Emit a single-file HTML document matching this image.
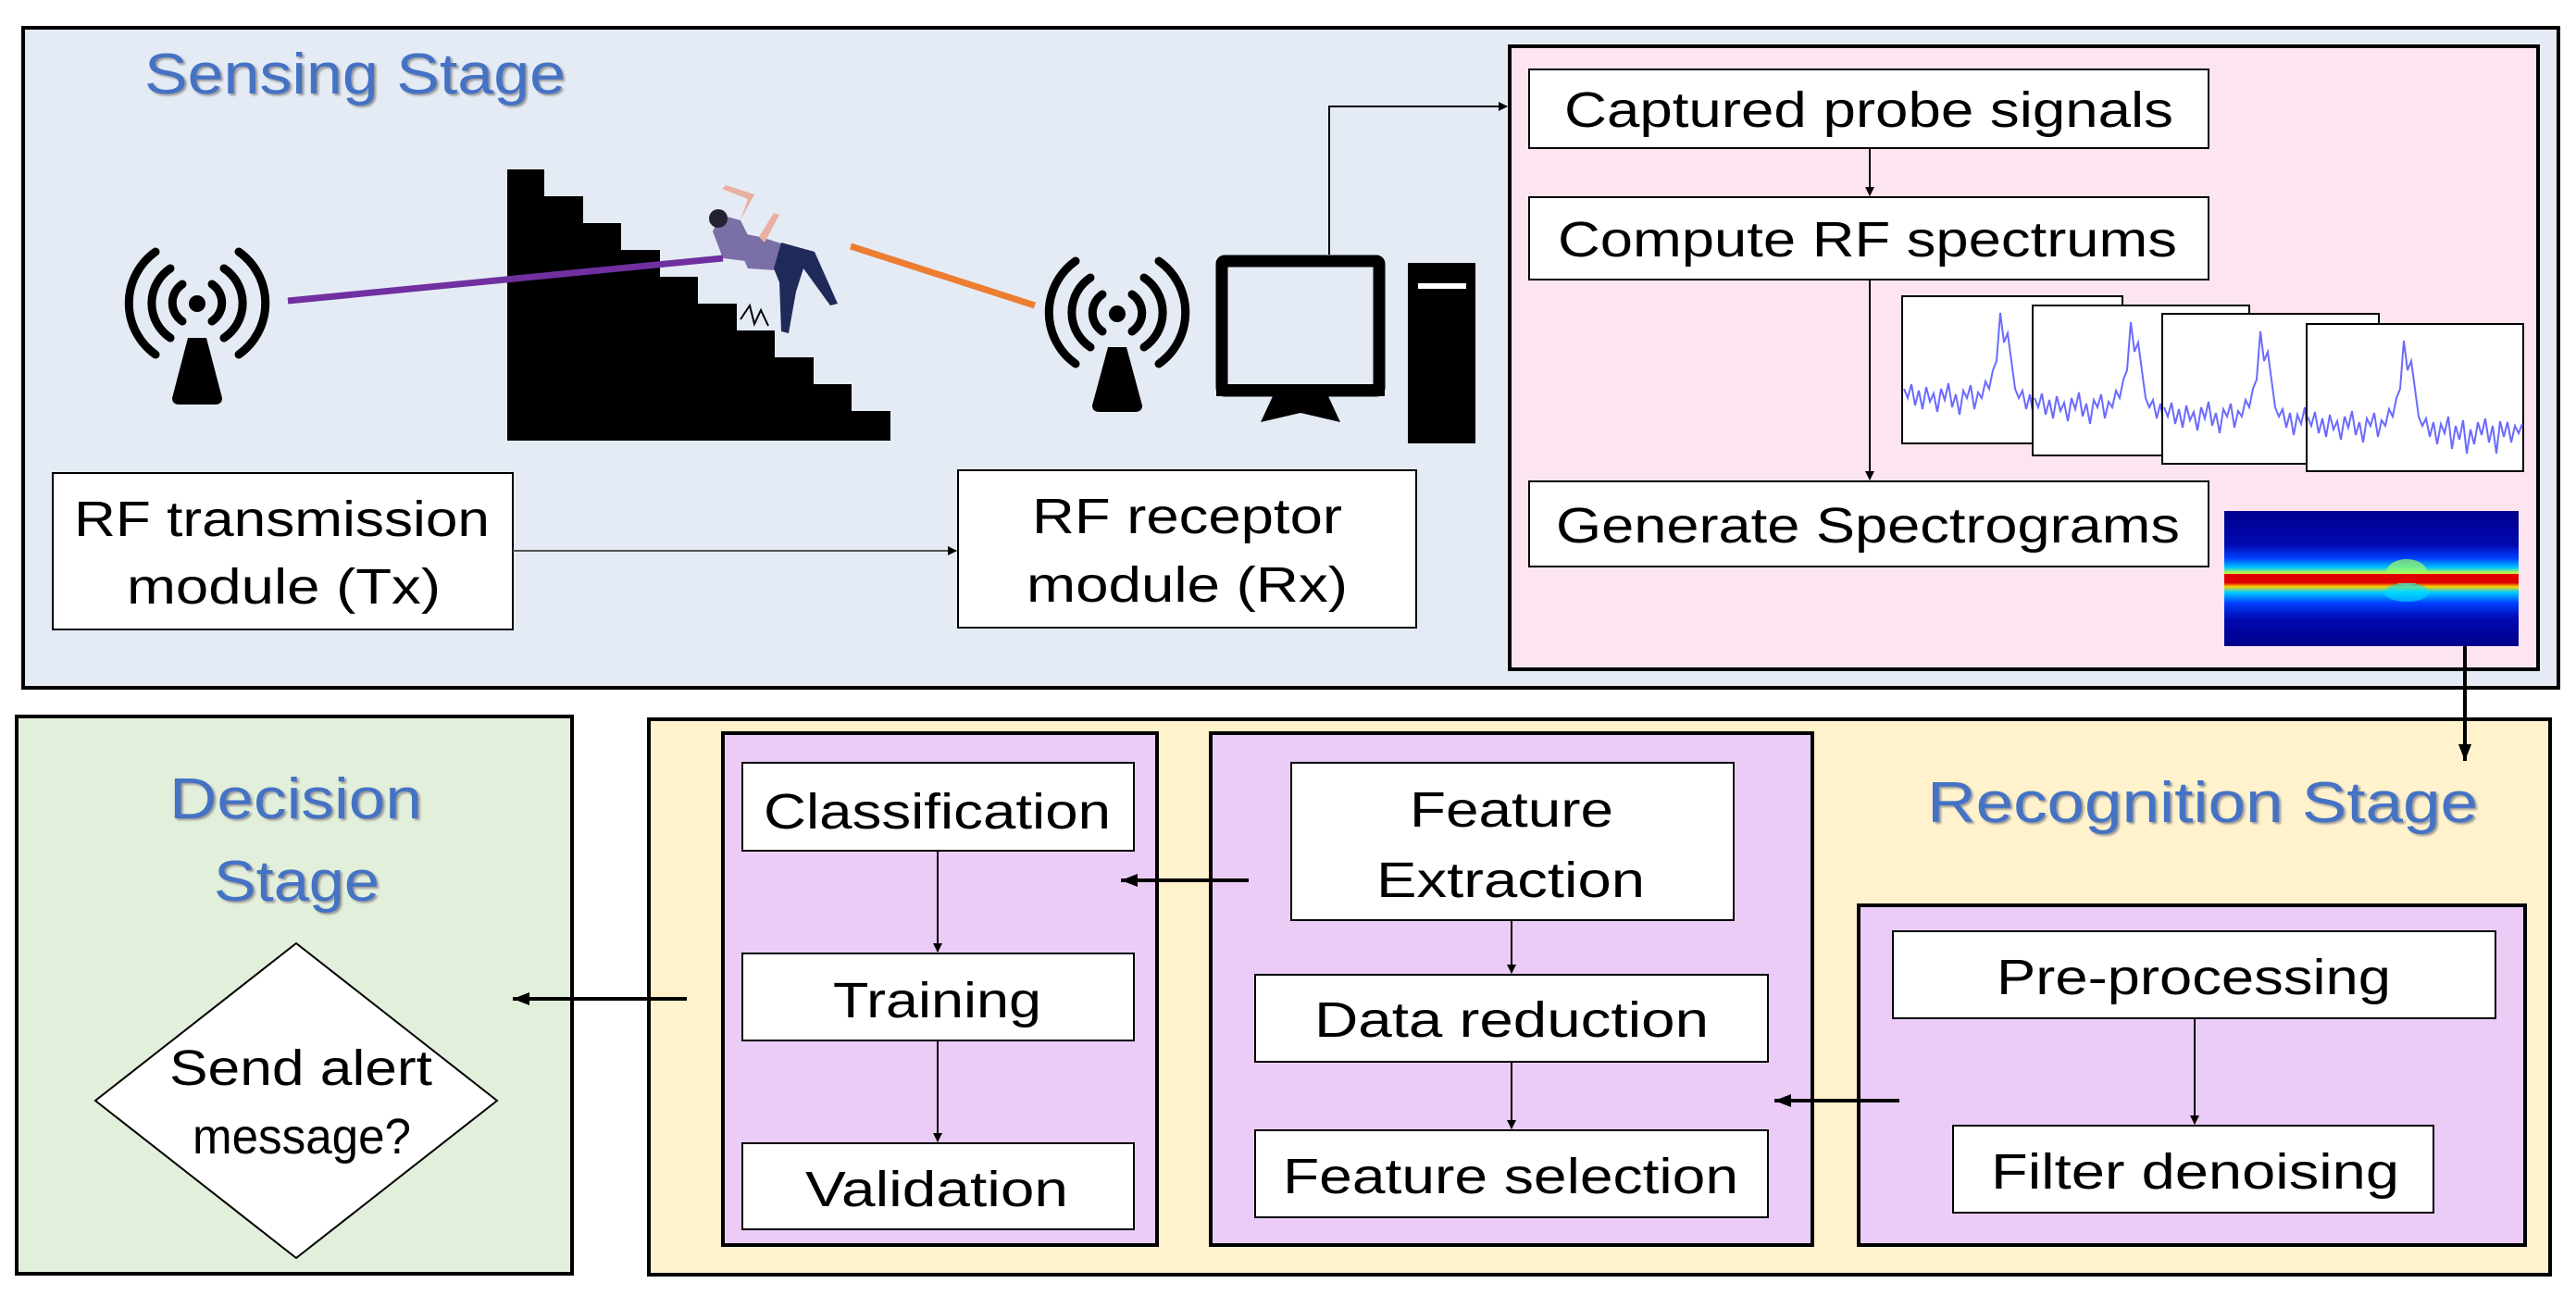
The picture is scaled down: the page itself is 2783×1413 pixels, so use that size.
<!DOCTYPE html>
<html><head><meta charset="utf-8"><style>
html,body{margin:0;padding:0;background:#fff;}
svg{display:block;}
text{font-family:"Liberation Sans",sans-serif;fill:#000;}
.lb{font-size:54px;}
.st{font-size:62px;fill:#4472C4;}
</style></head><body>
<svg width="2783" height="1413" viewBox="0 0 2783 1413" xmlns="http://www.w3.org/2000/svg">
<defs>
<marker id="ah" markerWidth="10" markerHeight="10" refX="9" refY="5" orient="auto" markerUnits="userSpaceOnUse"><path d="M0,0 L10,5 L0,10 z" fill="#000"/></marker>
<marker id="ah2" markerWidth="20" markerHeight="20" refX="18" refY="10" orient="auto" markerUnits="userSpaceOnUse"><path d="M0,3 L18,10 L0,17 z" fill="#000"/></marker>
<linearGradient id="sg" x1="0" y1="0" x2="0" y2="1">
<stop offset="0" stop-color="#00008c"/><stop offset="0.25" stop-color="#0008b0"/>
<stop offset="0.35" stop-color="#0040ff"/><stop offset="0.42" stop-color="#00c8ff"/>
<stop offset="0.46" stop-color="#c8ff40"/><stop offset="0.48" stop-color="#ff4000"/>
<stop offset="0.53" stop-color="#d00000"/><stop offset="0.56" stop-color="#ffd000"/>
<stop offset="0.6" stop-color="#00d0ff"/><stop offset="0.68" stop-color="#0040ff"/>
<stop offset="0.8" stop-color="#0008b0"/><stop offset="1" stop-color="#00008c"/>
</linearGradient>
<path id="sp" fill="none" stroke="#6a6aff" stroke-width="2" d="M0,90 L4,100 L8,85 L12,108 L16,92 L20,112 L24,88 L28,104 L32,95 L36,115 L40,90 L44,102 L48,84 L52,110 L56,96 L60,118 L64,92 L68,100 L72,86 L76,112 L80,94 L84,100 L88,82 L92,90 L96,70 L100,60 L104,8 L108,40 L112,30 L116,60 L120,90 L124,100 L128,92 L132,112 L136,96 L140,120 L144,98 L148,108 L152,90 L156,125 L160,100 L164,115 L168,94 L172,130 L176,104 L180,120 L184,96 L188,110 L192,92 L196,118 L200,100 L204,130 L208,95 L212,112 L216,96 L220,118 L224,100 L228,108 L232,98"/>
</defs>

<rect x="25" y="30" width="2739" height="713" fill="#E4EBF5" stroke="#000" stroke-width="4"/>
<text class="st" x="156" y="101" textLength="455" lengthAdjust="spacingAndGlyphs" style="text-shadow:2px 2px 2px #999">Sensing Stage</text>

<g stroke="#000" stroke-width="9" fill="none" stroke-linecap="round">
<path d="M197,307 A24,24 0 0,0 197,347"/><path d="M229,307 A24,24 0 0,1 229,347"/>
<path d="M184,290 A45,45 0 0,0 184,365"/><path d="M242,290 A45,45 0 0,1 242,365"/>
<path d="M168,272 A68,68 0 0,0 168,383"/><path d="M258,272 A68,68 0 0,1 258,383"/>
</g>
<circle cx="213" cy="328" r="9" fill="#000"/>
<path d="M203,365 L223,365 L240,430 Q240,437 232,437 L194,437 Q186,437 186,430 Z" fill="#000"/>

<g stroke="#000" stroke-width="9" fill="none" stroke-linecap="round">
<path d="M1191,318 A24,24 0 0,0 1191,358"/><path d="M1223,318 A24,24 0 0,1 1223,358"/>
<path d="M1178,300 A45,45 0 0,0 1178,375"/><path d="M1236,300 A45,45 0 0,1 1236,375"/>
<path d="M1162,282 A68,68 0 0,0 1162,393"/><path d="M1252,282 A68,68 0 0,1 1252,393"/>
</g>
<circle cx="1207" cy="339" r="9" fill="#000"/>
<path d="M1197,375 L1217,375 L1234,438 Q1234,445 1226,445 L1188,445 Q1180,445 1180,438 Z" fill="#000"/>

<path fill="#000" d="M548,183 L588,183 L588,212 L630,212 L630,241 L671,241 L671,270 L713,270 L713,299 L754,299 L754,328 L796,328 L796,357 L837,357 L837,386 L879,386 L879,415 L920,415 L920,444 L962,444 L962,476 L548,476 Z"/>

<path d="M781,279 L770,250 L778,232 L800,238 L812,262 L806,282 Z" fill="#7a6fa6"/>
<circle cx="776" cy="236" r="10" fill="#223"/>
<path d="M790,250 L822,256 L850,265 L838,292 L808,290 Z" fill="#7a6fa6"/>
<path d="M844,262 L880,272 L905,328 L897,330 L868,290 L860,315 L852,360 L844,358 L842,305 L836,290 Z" fill="#1f2a5a"/>
<path d="M800,238 L808,215 L780,204 L784,200 L815,210 Z" fill="#e8b0a0"/>
<path d="M820,256 L836,230 L842,232 L826,262 Z" fill="#e8b0a0"/>
<path d="M800,345 L810,330 L815,350 L822,335 L830,352" stroke="#000" stroke-width="2" fill="none"/>

<line x1="311" y1="325" x2="781" y2="279" stroke="#7030A0" stroke-width="7"/>
<line x1="919" y1="266" x2="1118" y2="330" stroke="#ED7D31" stroke-width="7"/>

<rect x="1320" y="282" width="170" height="140" fill="#E4EBF5" stroke="#000" stroke-width="13" rx="3"/>
<rect x="1314" y="415" width="182" height="13" fill="#000"/>
<path d="M1375,428 L1435,428 L1448,456 L1405,446 L1362,456 Z" fill="#000"/>
<rect x="1521" y="284" width="73" height="195" fill="#000"/>
<rect x="1532" y="306" width="52" height="6" fill="#fff"/>

<polyline points="1436,275 1436,115 1628,115" fill="none" stroke="#000" stroke-width="2" marker-end="url(#ah)"/>

<rect x="57" y="511" width="497" height="169" fill="#fff" stroke="#000" stroke-width="2"/>
<text class="lb" x="80" y="579" textLength="449" lengthAdjust="spacingAndGlyphs">RF transmission</text>
<text class="lb" x="137" y="652" textLength="339" lengthAdjust="spacingAndGlyphs">module (Tx)</text>
<rect x="1035" y="508" width="495" height="170" fill="#fff" stroke="#000" stroke-width="2"/>
<text class="lb" x="1115" y="576" textLength="335" lengthAdjust="spacingAndGlyphs">RF receptor</text>
<text class="lb" x="1109" y="650" textLength="347" lengthAdjust="spacingAndGlyphs">module (Rx)</text>
<line x1="554" y1="595" x2="1033" y2="595" stroke="#555" stroke-width="2" marker-end="url(#ah)"/>

<rect x="1631" y="50" width="1111" height="673" fill="#FDE4F1" stroke="#000" stroke-width="4"/>
<rect x="1652" y="75" width="734" height="85" fill="#fff" stroke="#000" stroke-width="2"/>
<text class="lb" x="1690" y="137" textLength="658" lengthAdjust="spacingAndGlyphs">Captured probe signals</text>
<rect x="1652" y="213" width="734" height="89" fill="#fff" stroke="#000" stroke-width="2"/>
<text class="lb" x="1683" y="277" textLength="669" lengthAdjust="spacingAndGlyphs">Compute RF spectrums</text>
<rect x="1652" y="520" width="734" height="92" fill="#fff" stroke="#000" stroke-width="2"/>
<text class="lb" x="1681" y="586" textLength="674" lengthAdjust="spacingAndGlyphs">Generate Spectrograms</text>
<line x1="2020" y1="160" x2="2020" y2="211" stroke="#000" stroke-width="2" marker-end="url(#ah)"/>
<line x1="2020" y1="302" x2="2020" y2="518" stroke="#000" stroke-width="2" marker-end="url(#ah)"/>

<rect x="2055" y="320" width="238" height="159" fill="#fff" stroke="#000" stroke-width="2"/>
<use href="#sp" transform="translate(2057,330)"/>
<rect x="2196" y="330" width="234" height="162" fill="#fff" stroke="#000" stroke-width="2"/>
<use href="#sp" transform="translate(2198,340)"/>
<rect x="2336" y="339" width="234" height="162" fill="#fff" stroke="#000" stroke-width="2"/>
<use href="#sp" transform="translate(2338,350)"/>
<rect x="2492" y="350" width="234" height="159" fill="#fff" stroke="#000" stroke-width="2"/>
<use href="#sp" transform="translate(2493,360)"/>

<rect x="2403" y="552" width="318" height="146" fill="url(#sg)"/>
<ellipse cx="2600" cy="618" rx="22" ry="14" fill="#a0ff60" opacity="0.7"/>
<ellipse cx="2600" cy="640" rx="24" ry="10" fill="#00e0ff" opacity="0.6"/>
<rect x="2403" y="620" width="318" height="10" fill="#e00000"/>

<rect x="18" y="774" width="600" height="602" fill="#E2EFDA" stroke="#000" stroke-width="4"/>
<text class="st" x="183" y="884" textLength="273" lengthAdjust="spacingAndGlyphs" style="text-shadow:2px 2px 2px #999">Decision</text>
<text class="st" x="231" y="973" textLength="179" lengthAdjust="spacingAndGlyphs" style="text-shadow:2px 2px 2px #999">Stage</text>
<polygon points="320,1019 537,1189 320,1359 103,1189" fill="#fff" stroke="#000" stroke-width="2"/>
<text class="lb" x="183" y="1172" textLength="284" lengthAdjust="spacingAndGlyphs">Send alert</text>
<text class="lb" x="208" y="1246" textLength="236" lengthAdjust="spacingAndGlyphs">message?</text>

<rect x="701" y="777" width="2054" height="600" fill="#FFF2CC" stroke="#000" stroke-width="4"/>
<text class="st" x="2082" y="888" textLength="595" lengthAdjust="spacingAndGlyphs" style="text-shadow:2px 2px 2px #999">Recognition Stage</text>

<rect x="781" y="792" width="469" height="553" fill="#EACCF7" stroke="#000" stroke-width="4"/>
<rect x="802" y="824" width="423" height="95" fill="#fff" stroke="#000" stroke-width="2"/>
<text class="lb" x="825" y="895" textLength="375" lengthAdjust="spacingAndGlyphs">Classification</text>
<rect x="802" y="1030" width="423" height="94" fill="#fff" stroke="#000" stroke-width="2"/>
<text class="lb" x="900" y="1099" textLength="225" lengthAdjust="spacingAndGlyphs">Training</text>
<rect x="802" y="1235" width="423" height="93" fill="#fff" stroke="#000" stroke-width="2"/>
<text class="lb" x="870" y="1303" textLength="284" lengthAdjust="spacingAndGlyphs">Validation</text>
<line x1="1013" y1="919" x2="1013" y2="1028" stroke="#000" stroke-width="2" marker-end="url(#ah)"/>
<line x1="1013" y1="1124" x2="1013" y2="1233" stroke="#000" stroke-width="2" marker-end="url(#ah)"/>

<rect x="1308" y="792" width="650" height="553" fill="#EACCF7" stroke="#000" stroke-width="4"/>
<rect x="1395" y="824" width="478" height="170" fill="#fff" stroke="#000" stroke-width="2"/>
<text class="lb" x="1523" y="893" textLength="220" lengthAdjust="spacingAndGlyphs">Feature</text>
<text class="lb" x="1487" y="969" textLength="290" lengthAdjust="spacingAndGlyphs">Extraction</text>
<rect x="1356" y="1053" width="554" height="94" fill="#fff" stroke="#000" stroke-width="2"/>
<text class="lb" x="1420" y="1120" textLength="426" lengthAdjust="spacingAndGlyphs">Data reduction</text>
<rect x="1356" y="1221" width="554" height="94" fill="#fff" stroke="#000" stroke-width="2"/>
<text class="lb" x="1386" y="1289" textLength="492" lengthAdjust="spacingAndGlyphs">Feature selection</text>
<line x1="1633" y1="994" x2="1633" y2="1051" stroke="#000" stroke-width="2" marker-end="url(#ah)"/>
<line x1="1633" y1="1147" x2="1633" y2="1219" stroke="#000" stroke-width="2" marker-end="url(#ah)"/>

<rect x="2008" y="978" width="720" height="367" fill="#EACCF7" stroke="#000" stroke-width="4"/>
<rect x="2045" y="1006" width="651" height="94" fill="#fff" stroke="#000" stroke-width="2"/>
<text class="lb" x="2157" y="1074" textLength="426" lengthAdjust="spacingAndGlyphs">Pre-processing</text>
<rect x="2110" y="1216" width="519" height="94" fill="#fff" stroke="#000" stroke-width="2"/>
<text class="lb" x="2151" y="1284" textLength="441" lengthAdjust="spacingAndGlyphs">Filter denoising</text>
<line x1="2371" y1="1100" x2="2371" y2="1214" stroke="#000" stroke-width="2" marker-end="url(#ah)"/>

<line x1="2052" y1="1189" x2="1917" y2="1189" stroke="#000" stroke-width="4" marker-end="url(#ah2)"/>
<line x1="1349" y1="951" x2="1211" y2="951" stroke="#000" stroke-width="4" marker-end="url(#ah2)"/>
<line x1="742" y1="1079" x2="554" y2="1079" stroke="#000" stroke-width="4" marker-end="url(#ah2)"/>
<line x1="2663" y1="698" x2="2663" y2="822" stroke="#000" stroke-width="4" marker-end="url(#ah2)"/>
</svg>
</body></html>
